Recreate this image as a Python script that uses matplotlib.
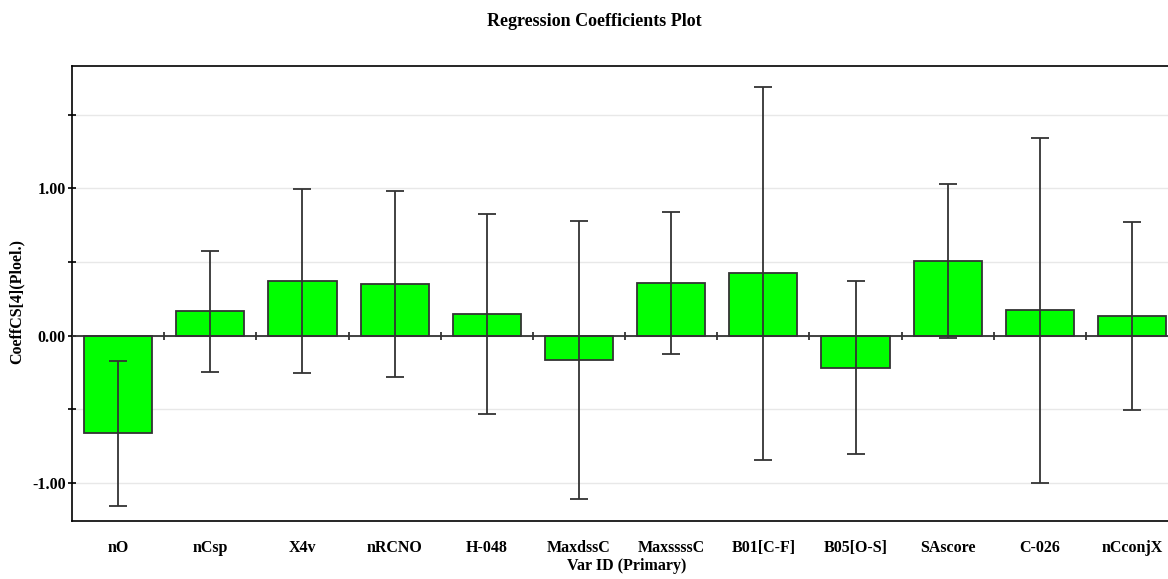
"""Regression coefficients bar plot with error bars."""
import numpy as np
import matplotlib
matplotlib.use("Agg")
import matplotlib.pyplot as plt
from matplotlib.ticker import FixedLocator, FuncFormatter

variables = ["nO", "nCsp", "X4v", "nRCNO", "H-048", "MaxdssC", "MaxssssC",
             "B01[C-F]", "B05[O-S]", "SAscore", "C-026", "nCconjX"]
coef = [-0.662, 0.166, 0.369, 0.353, 0.146, -0.167, 0.358,
        0.424, -0.216, 0.508, 0.172, 0.131]
conf = [0.493, 0.411, 0.624, 0.631, 0.680, 0.944, 0.481,
        1.265, 0.587, 0.524, 1.168, 0.638]
y_ticks = [-1.0, -0.5, 0.0, 0.5, 1.0, 1.5]

plt.rcParams["font.family"] = ["Liberation Serif", "DejaVu Serif"]
plt.rcParams["font.weight"] = "bold"

W, H = 1168, 579
fig = plt.figure(figsize=(W / 100, H / 100), dpi=100)
ax = fig.add_axes([72 / W, 1 - 521 / H, 1 - 72 / W, (521 - 66) / H])

x = np.arange(len(variables))
ax.bar(x, coef, width=0.74, color="#00ff00", edgecolor="#333333", linewidth=1.3, zorder=2)
ax.errorbar(x, coef, yerr=conf, fmt="none", ecolor="#333333", elinewidth=1.3,
            capsize=6.2, capthick=1.3, zorder=4)
ax.axhline(0, color="#333333", lw=1.3, zorder=3)
# little separators on the zero line between categories
ax.plot(x[:-1] + 0.5, np.zeros(len(x) - 1), ls="none", marker="|", ms=6,
        mew=1.3, color="#333333", zorder=3)

ax.set_xlim(-0.5, 11.39)
ax.set_ylim(-1.257, 1.83)

ax.yaxis.set_major_locator(FixedLocator(y_ticks))
ax.yaxis.set_major_formatter(FuncFormatter(
    lambda v, p: f"{v:.2f}" if abs(v - round(v)) < 1e-9 else ""))
ax.yaxis.grid(True, color="#e8e8e8", lw=1.0)
ax.set_axisbelow(True)
ax.tick_params(axis="y", direction="inout", length=6, width=1.2, pad=1.5,
               labelsize=11.5, colors="black")

ax.set_xticks(x)
ax.set_xticklabels(variables, fontsize=11.5, fontweight="bold")
ax.tick_params(axis="x", length=0, pad=14)

for s in ["top", "left", "bottom"]:
    ax.spines[s].set_linewidth(1.2)
    ax.spines[s].set_color("black")
ax.spines["right"].set_visible(False)

fig.text(594 / W, 1 - 21 / H, "Regression Coefficients Plot", ha="center",
         va="center", fontsize=13, fontweight="bold")
fig.text(627 / W, 1 - 566 / H, "Var ID (Primary)", ha="center", va="center",
         fontsize=11.5, fontweight="bold")
fig.text(17 / W, 1 - 301 / H, "CoeffCS[4](Ploel.)", ha="center", va="center",
         rotation=90, fontsize=11.5, fontweight="bold")

fig.savefig("out.png", dpi=100)
